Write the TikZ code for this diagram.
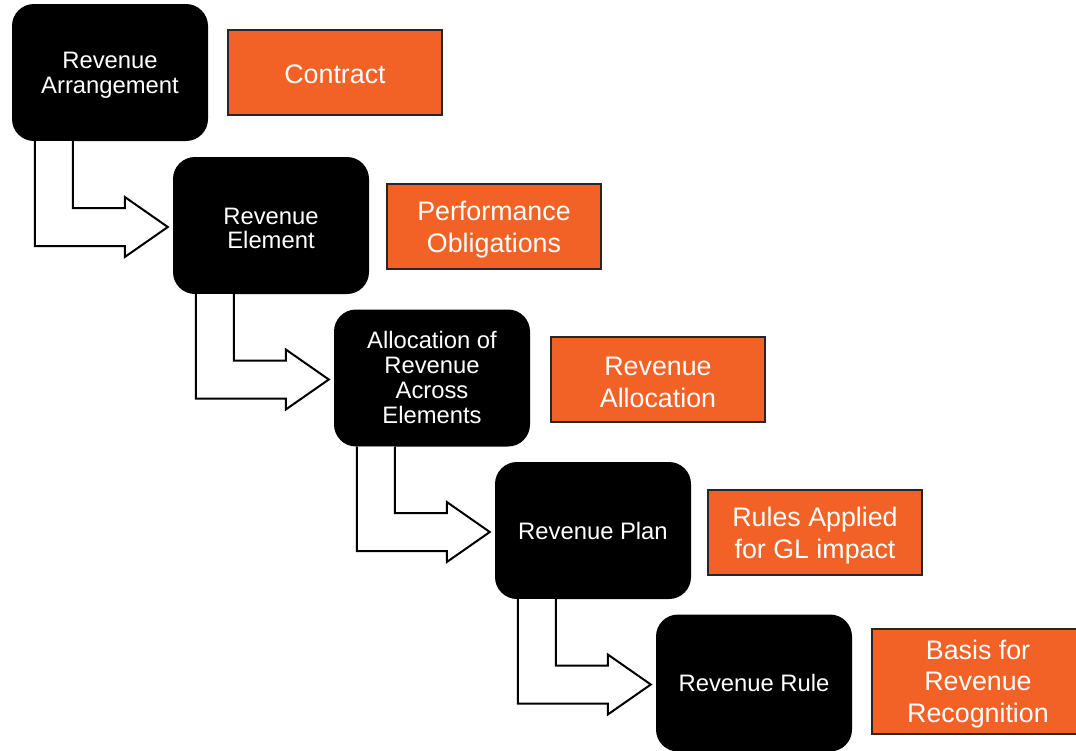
\documentclass[tikz,border=0pt]{standalone}
\usepackage{fontspec}
\setmainfont{Liberation Sans}
\usetikzlibrary{calc}
\definecolor{orng}{HTML}{F26125}
\tikzset{
  blk/.style={fill=black, rounded corners=22pt, minimum width=196pt, minimum height=137pt, inner sep=0pt},
  btxt/.style={text=white, align=center, font=\fontsize{23.8}{24.8}\selectfont, inner sep=0pt, yshift=-3pt},
  obox/.style={fill=orng, draw=black!85, line width=2pt, minimum width=214pt, minimum height=85pt, inner sep=0pt},
  otxt/.style={text=white, align=center, font=\fontsize{26.8}{31.5}\selectfont, inner sep=0pt, yshift=-3pt},
  bentarrow/.style={draw=black, line width=2pt, fill=white, line join=miter},
}
\newcommand{\bentarr}[2]{%
  \draw[bentarrow] let \p1=($(#1.south west)+(23,0)$), \p2=($(#1.south west)+(61,0)$), \p3=($(#2.west)+(-5,1.5)$) in
    (\x1,\y1) -- (\x1,\y3-19pt) -- (\x3-43pt,\y3-19pt) -- (\x3-43pt,\y3-30pt) -- (\x3,\y3)
    -- (\x3-43pt,\y3+30pt) -- (\x3-43pt,\y3+19pt) -- (\x2,\y3+19pt) -- (\x2,\y2);
}
\begin{document}
\begin{tikzpicture}[x=1pt,y=-1pt]
\useasboundingbox (0,0) rectangle (1076,750);
\node[blk, label={[btxt]center:{Revenue\\Arrangement}}] (b1) at (110,72.5) {};
\node[blk, label={[btxt]center:{Revenue\\Element}}] (b2) at (271,225.5) {};
\node[blk, label={[btxt, yshift=3.5pt]center:{Allocation of\\Revenue\\Across\\Elements}}] (b3) at (432,378) {};
\node[blk, label={[btxt, yshift=3pt]center:{Revenue Plan}}] (b4) at (593,530.5) {};
\node[blk, label={[btxt, yshift=3pt]center:{Revenue Rule}}] (b5) at (754,683) {};
\node[obox, label={[otxt, yshift=1pt]center:{Contract}}] (o1) at (335,72.5) {};
\node[obox, label={[otxt]center:{Performance\\Obligations}}] (o2) at (494,226.5) {};
\node[obox, label={[otxt]center:{Revenue\\Allocation}}] (o3) at (658,379.5) {};
\node[obox, label={[otxt]center:{Rules Applied\\for GL impact}}] (o4) at (815,532.5) {};
\node[obox, minimum width=212pt, minimum height=105pt, label={[otxt]center:{Basis for\\Revenue\\Recognition}}] (o5) at (978,681) {};
\bentarr{b1}{b2}
\bentarr{b2}{b3}
\bentarr{b3}{b4}
\bentarr{b4}{b5}
\end{tikzpicture}
\end{document}
